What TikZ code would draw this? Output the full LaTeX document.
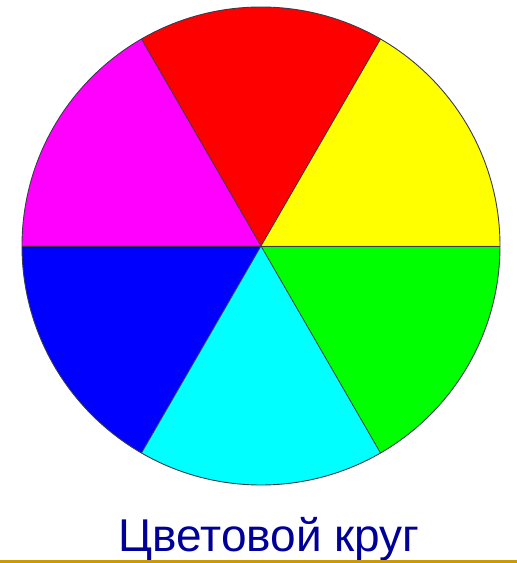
\documentclass[tikz,border=0pt]{standalone}
\usepackage{fontspec}
\setmainfont{Liberation Sans}
\definecolor{ttl}{HTML}{000099}
\definecolor{gold}{HTML}{CC9900}
\definecolor{edge}{HTML}{3A3A4A}
\definecolor{cY}{HTML}{FFFF00}
\definecolor{cR}{HTML}{FF0000}
\definecolor{cM}{HTML}{FF00FF}
\definecolor{cB}{HTML}{0000FF}
\definecolor{cC}{HTML}{00FFFF}
\definecolor{cG}{HTML}{00FF00}
\begin{document}
\begin{tikzpicture}[x=1pt,y=1pt,
  sector/.style={draw=edge,line width=0.8pt,line join=round}]
\useasboundingbox (0,0) rectangle (517,563);
\coordinate (c) at (261,317);
\def\R{239}
\foreach \a/\b/\col in {0/60/cY,60/120/cR,120/180/cM,180/240/cB,240/300/cC,300/360/cG}{
  \fill[\col] (c) -- ++(\a:\R) arc[start angle=\a,end angle=\b,radius=\R] -- cycle;
}
\foreach \a in {0,60,...,300}{
  \draw[sector] (c) -- ++(\a:\R);
}
\draw[draw=edge,line width=0.9pt] (c) circle[radius=\R];
\node[text=ttl,font=\fontsize{46}{50}\selectfont,anchor=base] (title) at (269,11) {Цветовой круг};
\fill[gold] (0,0) rectangle (517,2.5);
\end{tikzpicture}
\end{document}
